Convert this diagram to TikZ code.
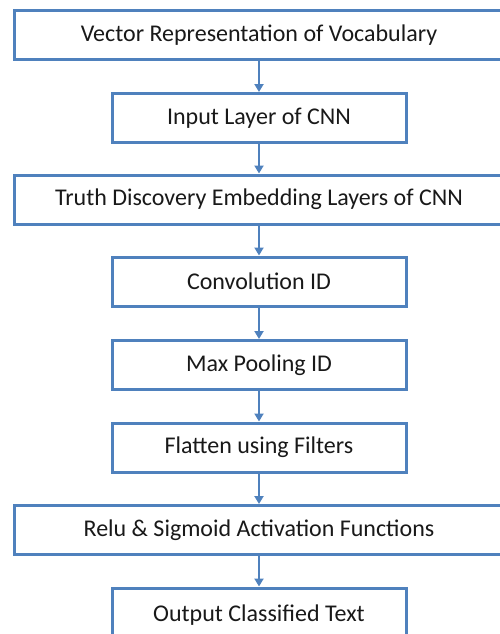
\documentclass[tikz,border=0pt]{standalone}
\usepackage{fontspec}
\setmainfont{Carlito}
\usetikzlibrary{arrows.meta}
\definecolor{flowblue}{HTML}{4F81BD}
\tikzset{
  stage/.style={draw=flowblue, line width=3pt, fill=white, inner sep=0pt,
    minimum height=49pt, font=\fontsize{24}{28}\selectfont, text=black!90},
  widestage/.style={stage, minimum width=490pt},
  narrowstage/.style={stage, minimum width=294pt},
  flow/.style={draw=flowblue, line width=2pt, -{Triangle[width=9pt,length=8pt]}}
}
\begin{document}
\begin{tikzpicture}[x=1pt,y=-1pt]
  \useasboundingbox (0,0) rectangle (500,634);
  \clip (0,0) rectangle (500,634);
  \node[widestage]   (v)  at (259,35)    {Vector Representation of Vocabulary};
  \node[narrowstage] (in) at (259,118)   {Input Layer of CNN};
  \node[widestage]   (td) at (259,199.5) {Truth Discovery Embedding Layers of CNN};
  \node[narrowstage] (cv) at (259,281.5) {Convolution ID};
  \node[narrowstage] (mp) at (259,365)   {Max Pooling ID};
  \node[narrowstage] (fl) at (259,447.5) {Flatten using Filters};
  \node[widestage]   (ra) at (259,530)   {Relu \& Sigmoid Activation Functions};
  \node[narrowstage, minimum height=50pt, text depth=0pt] (out) at (259,613) {Output Classified Text};
  \draw[flow] (v) -- (in);
  \draw[flow] (in) -- (td);
  \draw[flow] (td) -- (cv);
  \draw[flow] (cv) -- (mp);
  \draw[flow] (mp) -- (fl);
  \draw[flow] (fl) -- (ra);
  \draw[flow] (ra) -- (out);
\end{tikzpicture}
\end{document}
